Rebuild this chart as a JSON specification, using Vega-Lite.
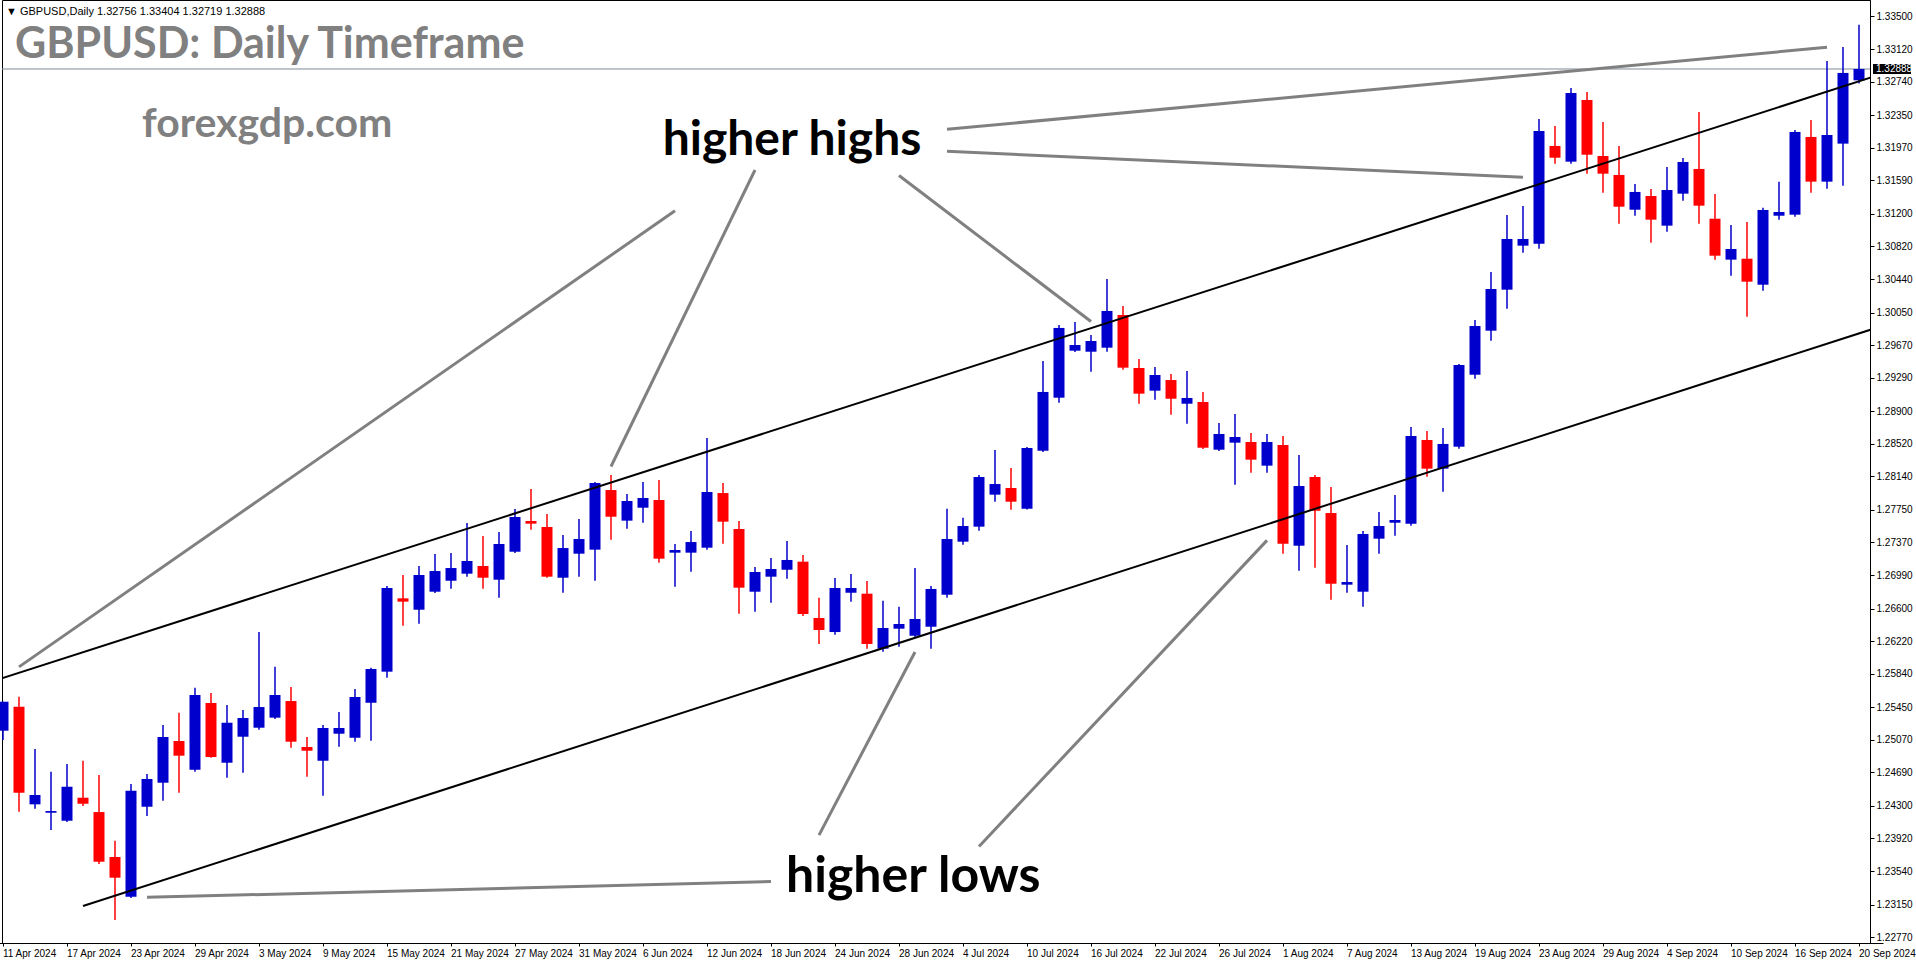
{
"$schema": "https://vega.github.io/schema/vega-lite/v6.json",
"width": 1868, "height": 943,
"autosize": "none",
"padding": {"left": 2, "top": 0, "right": 46, "bottom": 21},
"background": "#ffffff",
"config": {"view": {"stroke": "#000000", "strokeWidth": 1}, "axis": {"labelFont": "Liberation Sans", "labelFontSize": 10, "labelColor": "#000000", "domainColor": "#000000", "tickColor": "#000000", "grid": false, "labelOverlap": false, "labelSeparation": 0}, "axisY": {"labelOverlap": false}, "axisQuantitative": {"labelOverlap": false}},
"datasets": {
"candles": [
{"d":"11 Apr 2024","o":1.25176,"h":1.25514,"l":1.25068,"c":1.25514},
{"d":"12 Apr 2024","o":1.25456,"h":1.25572,"l":1.24232,"c":1.24453},
{"d":"15 Apr 2024","o":1.24318,"h":1.24963,"l":1.24267,"c":1.24427},
{"d":"16 Apr 2024","o":1.24220,"h":1.24698,"l":1.24019,"c":1.24240},
{"d":"17 Apr 2024","o":1.24127,"h":1.24788,"l":1.24112,"c":1.24523},
{"d":"18 Apr 2024","o":1.24395,"h":1.24826,"l":1.24298,"c":1.24325},
{"d":"19 Apr 2024","o":1.24228,"h":1.24660,"l":1.23622,"c":1.23649},
{"d":"22 Apr 2024","o":1.23704,"h":1.23894,"l":1.22970,"c":1.23463},
{"d":"23 Apr 2024","o":1.23241,"h":1.24555,"l":1.23226,"c":1.24477},
{"d":"24 Apr 2024","o":1.24290,"h":1.24671,"l":1.24182,"c":1.24613},
{"d":"25 Apr 2024","o":1.24570,"h":1.25242,"l":1.24360,"c":1.25103},
{"d":"26 Apr 2024","o":1.25056,"h":1.25386,"l":1.24453,"c":1.24885},
{"d":"29 Apr 2024","o":1.24721,"h":1.25677,"l":1.24698,"c":1.25592},
{"d":"30 Apr 2024","o":1.25499,"h":1.25615,"l":1.24861,"c":1.24870},
{"d":"1 May 2024","o":1.24803,"h":1.25476,"l":1.24628,"c":1.25269},
{"d":"2 May 2024","o":1.25106,"h":1.25417,"l":1.24686,"c":1.25324},
{"d":"3 May 2024","o":1.25211,"h":1.26326,"l":1.25188,"c":1.25452},
{"d":"6 May 2024","o":1.25328,"h":1.25922,"l":1.25312,"c":1.25592},
{"d":"7 May 2024","o":1.25522,"h":1.25685,"l":1.24978,"c":1.25048},
{"d":"8 May 2024","o":1.24986,"h":1.25103,"l":1.24640,"c":1.24943},
{"d":"9 May 2024","o":1.24826,"h":1.25242,"l":1.24418,"c":1.25208},
{"d":"10 May 2024","o":1.25141,"h":1.25394,"l":1.24990,"c":1.25208},
{"d":"13 May 2024","o":1.25094,"h":1.25662,"l":1.25048,"c":1.25569},
{"d":"14 May 2024","o":1.25502,"h":1.25910,"l":1.25059,"c":1.25895},
{"d":"15 May 2024","o":1.25864,"h":1.26862,"l":1.25794,"c":1.26839},
{"d":"16 May 2024","o":1.26719,"h":1.26991,"l":1.26400,"c":1.26680},
{"d":"17 May 2024","o":1.26586,"h":1.27096,"l":1.26423,"c":1.26991},
{"d":"20 May 2024","o":1.26796,"h":1.27235,"l":1.26781,"c":1.27037},
{"d":"21 May 2024","o":1.26924,"h":1.27247,"l":1.26831,"c":1.27072},
{"d":"22 May 2024","o":1.27006,"h":1.27597,"l":1.26971,"c":1.27154},
{"d":"23 May 2024","o":1.27096,"h":1.27445,"l":1.26831,"c":1.26959},
{"d":"24 May 2024","o":1.26936,"h":1.27492,"l":1.26726,"c":1.27352},
{"d":"27 May 2024","o":1.27262,"h":1.27760,"l":1.27247,"c":1.27667},
{"d":"28 May 2024","o":1.27620,"h":1.27993,"l":1.27519,"c":1.27589},
{"d":"29 May 2024","o":1.27550,"h":1.27702,"l":1.26959,"c":1.26971},
{"d":"30 May 2024","o":1.26959,"h":1.27457,"l":1.26784,"c":1.27305},
{"d":"31 May 2024","o":1.27239,"h":1.27643,"l":1.26971,"c":1.27410},
{"d":"3 Jun 2024","o":1.27286,"h":1.28075,"l":1.26924,"c":1.28063},
{"d":"4 Jun 2024","o":1.27981,"h":1.28156,"l":1.27402,"c":1.27670},
{"d":"5 Jun 2024","o":1.27624,"h":1.27935,"l":1.27530,"c":1.27853},
{"d":"6 Jun 2024","o":1.27775,"h":1.28075,"l":1.27600,"c":1.27888},
{"d":"7 Jun 2024","o":1.27865,"h":1.28098,"l":1.27134,"c":1.27181},
{"d":"10 Jun 2024","o":1.27251,"h":1.27352,"l":1.26854,"c":1.27282},
{"d":"11 Jun 2024","o":1.27251,"h":1.27504,"l":1.27029,"c":1.27375},
{"d":"12 Jun 2024","o":1.27309,"h":1.28587,"l":1.27286,"c":1.27958},
{"d":"13 Jun 2024","o":1.27946,"h":1.28063,"l":1.27356,"c":1.27612},
{"d":"14 Jun 2024","o":1.27527,"h":1.27620,"l":1.26540,"c":1.26843},
{"d":"17 Jun 2024","o":1.26796,"h":1.27084,"l":1.26563,"c":1.27026},
{"d":"18 Jun 2024","o":1.26971,"h":1.27189,"l":1.26668,"c":1.27061},
{"d":"19 Jun 2024","o":1.27052,"h":1.27387,"l":1.26948,"c":1.27166},
{"d":"20 Jun 2024","o":1.27146,"h":1.27224,"l":1.26513,"c":1.26536},
{"d":"21 Jun 2024","o":1.26490,"h":1.26726,"l":1.26187,"c":1.26350},
{"d":"24 Jun 2024","o":1.26326,"h":1.26956,"l":1.26295,"c":1.26839},
{"d":"25 Jun 2024","o":1.26784,"h":1.27002,"l":1.26680,"c":1.26839},
{"d":"26 Jun 2024","o":1.26773,"h":1.26921,"l":1.26132,"c":1.26187},
{"d":"27 Jun 2024","o":1.26132,"h":1.26691,"l":1.26097,"c":1.26373},
{"d":"28 Jun 2024","o":1.26365,"h":1.26621,"l":1.26155,"c":1.26420},
{"d":"1 Jul 2024","o":1.26283,"h":1.27072,"l":1.26268,"c":1.26478},
{"d":"2 Jul 2024","o":1.26388,"h":1.26863,"l":1.26132,"c":1.26828},
{"d":"3 Jul 2024","o":1.26761,"h":1.27763,"l":1.26726,"c":1.27410},
{"d":"4 Jul 2024","o":1.27379,"h":1.27659,"l":1.27344,"c":1.27562},
{"d":"5 Jul 2024","o":1.27554,"h":1.28156,"l":1.27507,"c":1.28133},
{"d":"8 Jul 2024","o":1.27927,"h":1.28448,"l":1.27845,"c":1.28051},
{"d":"9 Jul 2024","o":1.28005,"h":1.28238,"l":1.27752,"c":1.27845},
{"d":"10 Jul 2024","o":1.27763,"h":1.28482,"l":1.27754,"c":1.28471},
{"d":"11 Jul 2024","o":1.28439,"h":1.29485,"l":1.28424,"c":1.29124},
{"d":"12 Jul 2024","o":1.29057,"h":1.29904,"l":1.28999,"c":1.29870},
{"d":"15 Jul 2024","o":1.29605,"h":1.29939,"l":1.29590,"c":1.29671},
{"d":"16 Jul 2024","o":1.29593,"h":1.29788,"l":1.29360,"c":1.29718},
{"d":"17 Jul 2024","o":1.29640,"h":1.30441,"l":1.29593,"c":1.30068},
{"d":"18 Jul 2024","o":1.30021,"h":1.30126,"l":1.29384,"c":1.29407},
{"d":"19 Jul 2024","o":1.29403,"h":1.29508,"l":1.28987,"c":1.29104},
{"d":"22 Jul 2024","o":1.29139,"h":1.29415,"l":1.29034,"c":1.29322},
{"d":"23 Jul 2024","o":1.29263,"h":1.29333,"l":1.28859,"c":1.29045},
{"d":"24 Jul 2024","o":1.28987,"h":1.29368,"l":1.28754,"c":1.29054},
{"d":"25 Jul 2024","o":1.29007,"h":1.29124,"l":1.28459,"c":1.28474},
{"d":"26 Jul 2024","o":1.28451,"h":1.28762,"l":1.28436,"c":1.28634},
{"d":"29 Jul 2024","o":1.28533,"h":1.28867,"l":1.28043,"c":1.28599},
{"d":"30 Jul 2024","o":1.28541,"h":1.28646,"l":1.28183,"c":1.28335},
{"d":"31 Jul 2024","o":1.28265,"h":1.28634,"l":1.28183,"c":1.28541},
{"d":"1 Aug 2024","o":1.28506,"h":1.28611,"l":1.27239,"c":1.27356},
{"d":"2 Aug 2024","o":1.27332,"h":1.28389,"l":1.27041,"c":1.28028},
{"d":"5 Aug 2024","o":1.28133,"h":1.28156,"l":1.27076,"c":1.27740},
{"d":"6 Aug 2024","o":1.27713,"h":1.28016,"l":1.26703,"c":1.26889},
{"d":"7 Aug 2024","o":1.26878,"h":1.27340,"l":1.26784,"c":1.26909},
{"d":"8 Aug 2024","o":1.26796,"h":1.27504,"l":1.26621,"c":1.27469},
{"d":"9 Aug 2024","o":1.27414,"h":1.27725,"l":1.27239,"c":1.27562},
{"d":"12 Aug 2024","o":1.27600,"h":1.27923,"l":1.27449,"c":1.27632},
{"d":"13 Aug 2024","o":1.27589,"h":1.28716,"l":1.27565,"c":1.28611},
{"d":"14 Aug 2024","o":1.28564,"h":1.28669,"l":1.28136,"c":1.28230},
{"d":"15 Aug 2024","o":1.28230,"h":1.28704,"l":1.27962,"c":1.28518},
{"d":"16 Aug 2024","o":1.28486,"h":1.29450,"l":1.28463,"c":1.29438},
{"d":"19 Aug 2024","o":1.29325,"h":1.29963,"l":1.29279,"c":1.29893},
{"d":"20 Aug 2024","o":1.29838,"h":1.30522,"l":1.29721,"c":1.30324},
{"d":"21 Aug 2024","o":1.30316,"h":1.31187,"l":1.30094,"c":1.30907},
{"d":"22 Aug 2024","o":1.30829,"h":1.31291,"l":1.30747,"c":1.30907},
{"d":"23 Aug 2024","o":1.30852,"h":1.32305,"l":1.30794,"c":1.32166},
{"d":"26 Aug 2024","o":1.31991,"h":1.32224,"l":1.31784,"c":1.31854},
{"d":"27 Aug 2024","o":1.31808,"h":1.32667,"l":1.31784,"c":1.32608},
{"d":"28 Aug 2024","o":1.32527,"h":1.32620,"l":1.31668,"c":1.31889},
{"d":"29 Aug 2024","o":1.31874,"h":1.32270,"l":1.31446,"c":1.31668},
{"d":"30 Aug 2024","o":1.31653,"h":1.31991,"l":1.31085,"c":1.31283},
{"d":"2 Sep 2024","o":1.31248,"h":1.31548,"l":1.31178,"c":1.31455},
{"d":"3 Sep 2024","o":1.31408,"h":1.31490,"l":1.30864,"c":1.31132},
{"d":"4 Sep 2024","o":1.31062,"h":1.31746,"l":1.30992,"c":1.31478},
{"d":"5 Sep 2024","o":1.31435,"h":1.31851,"l":1.31353,"c":1.31804},
{"d":"6 Sep 2024","o":1.31723,"h":1.32387,"l":1.31085,"c":1.31295},
{"d":"9 Sep 2024","o":1.31143,"h":1.31431,"l":1.30666,"c":1.30712},
{"d":"10 Sep 2024","o":1.30666,"h":1.31070,"l":1.30479,"c":1.30790},
{"d":"11 Sep 2024","o":1.30677,"h":1.31105,"l":1.30001,"c":1.30409},
{"d":"12 Sep 2024","o":1.30374,"h":1.31272,"l":1.30304,"c":1.31245},
{"d":"13 Sep 2024","o":1.31178,"h":1.31575,"l":1.31132,"c":1.31221},
{"d":"16 Sep 2024","o":1.31190,"h":1.32177,"l":1.31167,"c":1.32154},
{"d":"17 Sep 2024","o":1.32096,"h":1.32294,"l":1.31446,"c":1.31575},
{"d":"18 Sep 2024","o":1.31575,"h":1.32981,"l":1.31493,"c":1.32119},
{"d":"19 Sep 2024","o":1.32018,"h":1.33145,"l":1.31528,"c":1.32842},
{"d":"20 Sep 2024","o":1.32756,"h":1.33404,"l":1.32719,"c":1.32888}
],
"channel": [
{"id":"upper","d":"10 Apr 2024","p":1.25731},{"id":"upper","d":"23 Sep 2024","p":1.32804},
{"id":"lower","d":"18 Apr 2024","p":1.23133},{"id":"lower","d":"23 Sep 2024","p":1.29866}
],
"arrows": [
{"id":"h1","d":"12 Apr 2024","p":1.25920},{"id":"h1","d":"10 Jun 2024","p":1.31235},
{"id":"h2","d":"4 Jun 2024","p":1.28255},{"id":"h2","d":"17 Jun 2024","p":1.31711},
{"id":"h3","d":"28 Jun 2024","p":1.31646},{"id":"h3","d":"16 Jul 2024","p":1.29945},
{"id":"h4","d":"3 Jul 2024","p":1.31929},{"id":"h4","d":"22 Aug 2024","p":1.31627},
{"id":"h5","d":"3 Jul 2024","p":1.32185},{"id":"h5","d":"18 Sep 2024","p":1.33141},
{"id":"l1","d":"24 Apr 2024","p":1.23234},{"id":"l1","d":"18 Jun 2024","p":1.23418},
{"id":"l2","d":"21 Jun 2024","p":1.23959},{"id":"l2","d":"1 Jul 2024","p":1.26094},
{"id":"l3","d":"5 Jul 2024","p":1.23827},{"id":"l3","d":"31 Jul 2024","p":1.27394}
]
},
"encoding": {
"x": {"field": "d", "type": "ordinal", "title": null,
 "scale": {"type": "band", "paddingInner": 0, "paddingOuter": 0, "range": [-23, 1881],
  "domain": ["10 Apr 2024","11 Apr 2024","12 Apr 2024","15 Apr 2024","16 Apr 2024","17 Apr 2024","18 Apr 2024","19 Apr 2024","22 Apr 2024","23 Apr 2024","24 Apr 2024","25 Apr 2024","26 Apr 2024","29 Apr 2024","30 Apr 2024","1 May 2024","2 May 2024","3 May 2024","6 May 2024","7 May 2024","8 May 2024","9 May 2024","10 May 2024","13 May 2024","14 May 2024","15 May 2024","16 May 2024","17 May 2024","20 May 2024","21 May 2024","22 May 2024","23 May 2024","24 May 2024","27 May 2024","28 May 2024","29 May 2024","30 May 2024","31 May 2024","3 Jun 2024","4 Jun 2024","5 Jun 2024","6 Jun 2024","7 Jun 2024","10 Jun 2024","11 Jun 2024","12 Jun 2024","13 Jun 2024","14 Jun 2024","17 Jun 2024","18 Jun 2024","19 Jun 2024","20 Jun 2024","21 Jun 2024","24 Jun 2024","25 Jun 2024","26 Jun 2024","27 Jun 2024","28 Jun 2024","1 Jul 2024","2 Jul 2024","3 Jul 2024","4 Jul 2024","5 Jul 2024","8 Jul 2024","9 Jul 2024","10 Jul 2024","11 Jul 2024","12 Jul 2024","15 Jul 2024","16 Jul 2024","17 Jul 2024","18 Jul 2024","19 Jul 2024","22 Jul 2024","23 Jul 2024","24 Jul 2024","25 Jul 2024","26 Jul 2024","29 Jul 2024","30 Jul 2024","31 Jul 2024","1 Aug 2024","2 Aug 2024","5 Aug 2024","6 Aug 2024","7 Aug 2024","8 Aug 2024","9 Aug 2024","12 Aug 2024","13 Aug 2024","14 Aug 2024","15 Aug 2024","16 Aug 2024","19 Aug 2024","20 Aug 2024","21 Aug 2024","22 Aug 2024","23 Aug 2024","26 Aug 2024","27 Aug 2024","28 Aug 2024","29 Aug 2024","30 Aug 2024","2 Sep 2024","3 Sep 2024","4 Sep 2024","5 Sep 2024","6 Sep 2024","9 Sep 2024","10 Sep 2024","11 Sep 2024","12 Sep 2024","13 Sep 2024","16 Sep 2024","17 Sep 2024","18 Sep 2024","19 Sep 2024","20 Sep 2024","23 Sep 2024"]},
 "axis": {"values": ["11 Apr 2024","17 Apr 2024","23 Apr 2024","29 Apr 2024","3 May 2024","9 May 2024","15 May 2024","21 May 2024","27 May 2024","31 May 2024","6 Jun 2024","12 Jun 2024","18 Jun 2024","24 Jun 2024","28 Jun 2024","4 Jul 2024","10 Jul 2024","16 Jul 2024","22 Jul 2024","26 Jul 2024","1 Aug 2024","7 Aug 2024","13 Aug 2024","19 Aug 2024","23 Aug 2024","29 Aug 2024","4 Sep 2024","10 Sep 2024","16 Sep 2024","20 Sep 2024"],
  "labelAngle": 0, "labelAlign": "left", "labelBaseline": "top", "labelPadding": 2, "tickSize": 3, "labelOverlap": false, "labelBound": false, "labelFlush": false, "bandPosition": 0.5}}
},
"layer": [
{"data": {"values": [{"d": "10 Apr 2024", "d2": "23 Sep 2024", "p": 1.32888}]},
 "mark": {"type": "rule", "color": "#7f8b99", "strokeWidth": 1, "clip": true},
 "encoding": {"x2": {"field": "d2"},
  "y": {"field": "p", "type": "quantitative", "title": null, "scale": {"domain": [1.22702, 1.33692], "nice": false, "zero": false},
   "axis": {"orient": "right", "values": [1.335,1.3312,1.3274,1.3235,1.3197,1.3159,1.312,1.3082,1.3044,1.3005,1.2967,1.2929,1.289,1.2852,1.2814,1.2775,1.2737,1.2699,1.266,1.2622,1.2584,1.2545,1.2507,1.2469,1.243,1.2392,1.2354,1.2315,1.2277], "format": ".5f", "tickSize": 4, "labelPadding": 2, "labelOverlap": false, "labelSeparation": 0, "labelFlush": false, "labelBound": false, "tickCount": 40}}}},
{"data": {"name": "candles"},
 "mark": {"type": "rule", "strokeWidth": 1.5},
 "encoding": {"y": {"field": "l", "type": "quantitative", "title": null, "scale": {"domain": [1.22702, 1.33692], "nice": false, "zero": false}},
  "y2": {"field": "h"},
  "color": {"condition": {"test": "datum.c > datum.o", "value": "#0000CD"}, "value": "#FF0000"}}},
{"data": {"name": "candles"},
 "mark": {"type": "bar", "width": 11},
 "encoding": {"y": {"field": "o", "type": "quantitative", "title": null, "scale": {"domain": [1.22702, 1.33692], "nice": false, "zero": false}},
  "y2": {"field": "c"},
  "color": {"condition": {"test": "datum.c > datum.o", "value": "#0000CD"}, "value": "#FF0000"}}},
{"data": {"name": "channel"},
 "mark": {"type": "line", "color": "#000000", "strokeWidth": 2, "clip": true},
 "encoding": {"y": {"field": "p", "type": "quantitative", "title": null, "scale": {"domain": [1.22702, 1.33692], "nice": false, "zero": false}},
  "detail": {"field": "id"}}},
{"data": {"name": "arrows"},
 "mark": {"type": "line", "color": "#808080", "strokeWidth": 3, "clip": true},
 "encoding": {"y": {"field": "p", "type": "quantitative", "title": null, "scale": {"domain": [1.22702, 1.33692], "nice": false, "zero": false}},
  "detail": {"field": "id"}}},
{"data": {"values": [{"t": "▼ GBPUSD,Daily  1.32756 1.33404 1.32719 1.32888", "d": "11 Apr 2024", "p": 1.33518}]},
 "mark": {"type": "text", "font": "Liberation Sans", "fontSize": 11, "color": "#000000", "align": "left", "baseline": "alphabetic", "dx": 3},
 "encoding": {"y": {"field": "p", "type": "quantitative", "title": null, "scale": {"domain": [1.22702, 1.33692], "nice": false, "zero": false}}, "text": {"field": "t"}}},
{"data": {"values": [{"t": "GBPUSD: Daily Timeframe", "d": "11 Apr 2024", "p": 1.33016}]},
 "mark": {"type": "text", "font": "Lato", "fontWeight": "bold", "fontSize": 43, "color": "#808080", "align": "left", "baseline": "alphabetic", "dx": 12},
 "encoding": {"y": {"field": "p", "type": "quantitative", "title": null, "scale": {"domain": [1.22702, 1.33692], "nice": false, "zero": false}}, "text": {"field": "t"}}},
{"data": {"values": [{"t": "forexgdp.com", "d": "24 Apr 2024", "p": 1.32096}]},
 "mark": {"type": "text", "font": "Lato", "fontWeight": "bold", "fontSize": 41, "color": "#808080", "align": "left", "baseline": "alphabetic", "dx": -5},
 "encoding": {"y": {"field": "p", "type": "quantitative", "title": null, "scale": {"domain": [1.22702, 1.33692], "nice": false, "zero": false}}, "text": {"field": "t"}}},
{"data": {"values": [{"t": "higher highs", "d": "19 Jun 2024", "p": 1.31886}]},
 "mark": {"type": "text", "font": "Lato", "fontWeight": "bold", "fontSize": 48, "color": "#000000", "align": "center", "baseline": "alphabetic", "dx": 5},
 "encoding": {"y": {"field": "p", "type": "quantitative", "title": null, "scale": {"domain": [1.22702, 1.33692], "nice": false, "zero": false}}, "text": {"field": "t"}}},
{"data": {"values": [{"t": "higher lows", "d": "19 Jun 2024", "p": 1.23296}]},
 "mark": {"type": "text", "font": "Lato", "fontWeight": "bold", "fontSize": 50, "color": "#000000", "align": "left", "baseline": "alphabetic", "dx": -1},
 "encoding": {"y": {"field": "p", "type": "quantitative", "title": null, "scale": {"domain": [1.22702, 1.33692], "nice": false, "zero": false}}, "text": {"field": "t"}}},
{"data": {"values": [{"d": "20 Sep 2024", "p": 1.32888}]},
 "mark": {"type": "point", "shape": "M0.7,-0.25H2.6V0.25H0.7Z", "size": 1600, "filled": true, "color": "#000000", "opacity": 1, "strokeWidth": 0},
 "encoding": {"y": {"field": "p", "type": "quantitative", "title": null, "scale": {"domain": [1.22702, 1.33692], "nice": false, "zero": false}}}},
{"data": {"values": [{"t": "1.32888", "d": "20 Sep 2024", "p": 1.32888}]},
 "mark": {"type": "text", "font": "Liberation Sans", "fontSize": 10, "color": "#ffffff", "align": "left", "baseline": "middle", "dx": 17},
 "encoding": {"y": {"field": "p", "type": "quantitative", "title": null, "scale": {"domain": [1.22702, 1.33692], "nice": false, "zero": false}}, "text": {"field": "t"}}}
]
}
